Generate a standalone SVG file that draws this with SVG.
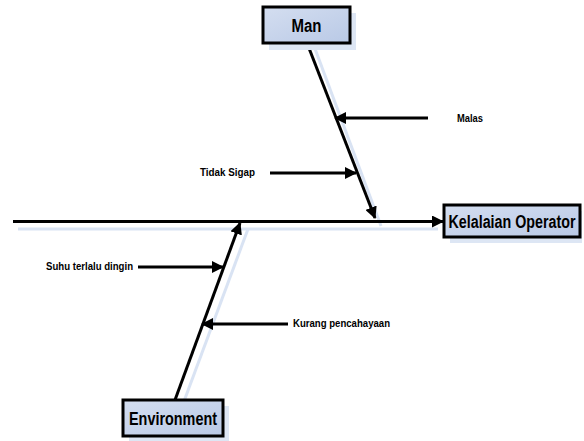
<svg xmlns="http://www.w3.org/2000/svg" width="584" height="441" viewBox="0 0 584 441">
<style>
.box{fill:url(#g);stroke:#000;stroke-width:3}
.shadow{fill:#dde6f4}
.sh{stroke:#d9e3f3;stroke-width:3;fill:none}
.ln{stroke:#000;stroke-width:3;fill:none}
.big{font-family:"Liberation Sans",Arial,sans-serif;font-weight:bold;font-size:18px;fill:#000}
.sm{font-family:"Liberation Sans",Arial,sans-serif;font-weight:bold;font-size:11px;fill:#000}
</style>
<defs>
<linearGradient id="g" x1="0" y1="0" x2="1" y2="1">
<stop offset="0" stop-color="#d4def0"/>
<stop offset="1" stop-color="#b9c9e6"/>
</linearGradient>
<marker id="ahs" markerWidth="12" markerHeight="12" refX="11" refY="6" orient="auto" markerUnits="userSpaceOnUse" viewBox="0 0 12 12">
<path d="M0,0 L12,6 L0,12 z" fill="#000"/>
</marker>
</defs>
<g id="shadows">
<line class="sh" x1="18" y1="229" x2="438" y2="229"/>
<line class="sh" x1="314" y1="46" x2="381" y2="226"/>
<line class="sh" x1="183" y1="404" x2="248" y2="229"/>
</g>
<g id="connectors">
<line class="ln" x1="13" y1="221.5" x2="443" y2="221.5" marker-end="url(#ahs)"/>
<line class="ln" x1="307" y1="43" x2="375" y2="218" marker-end="url(#ahs)"/>
<line class="ln" x1="175" y1="400" x2="240" y2="223" marker-end="url(#ahs)"/>
<line class="ln" x1="428" y1="118" x2="335" y2="118" marker-end="url(#ahs)"/>
<line class="ln" x1="270" y1="173" x2="356" y2="173" marker-end="url(#ahs)"/>
<line class="ln" x1="138" y1="267" x2="223" y2="267" marker-end="url(#ahs)"/>
<line class="ln" x1="288" y1="324" x2="202" y2="324" marker-end="url(#ahs)"/>
</g>
<g id="man">
<rect class="shadow" x="269" y="13" width="87" height="37"/>
<rect class="box" x="263" y="7" width="87" height="36"/>
<text class="big" x="306.5" y="32" text-anchor="middle" textLength="30" lengthAdjust="spacingAndGlyphs">Man</text>
</g>
<g id="kelalaian">
<rect class="shadow" x="450" y="211" width="132" height="32"/>
<rect class="box" x="444" y="205" width="136" height="32"/>
<text class="big" x="512" y="227.5" text-anchor="middle" textLength="127" lengthAdjust="spacingAndGlyphs">Kelalaian Operator</text>
</g>
<g id="environment">
<rect class="shadow" x="129" y="406" width="100" height="35"/>
<rect class="box" x="123" y="400" width="100" height="36"/>
<text class="big" x="173" y="425" text-anchor="middle" textLength="88" lengthAdjust="spacingAndGlyphs">Environment</text>
</g>
<g id="labels">
<text class="sm" x="457" y="122" textLength="26" lengthAdjust="spacingAndGlyphs">Malas</text>
<text class="sm" x="200" y="176" textLength="55" lengthAdjust="spacingAndGlyphs">Tidak Sigap</text>
<text class="sm" x="46" y="270" textLength="87" lengthAdjust="spacingAndGlyphs">Suhu terlalu dingin</text>
<text class="sm" x="293" y="327" textLength="97" lengthAdjust="spacingAndGlyphs">Kurang pencahayaan</text>
</g>
</svg>
